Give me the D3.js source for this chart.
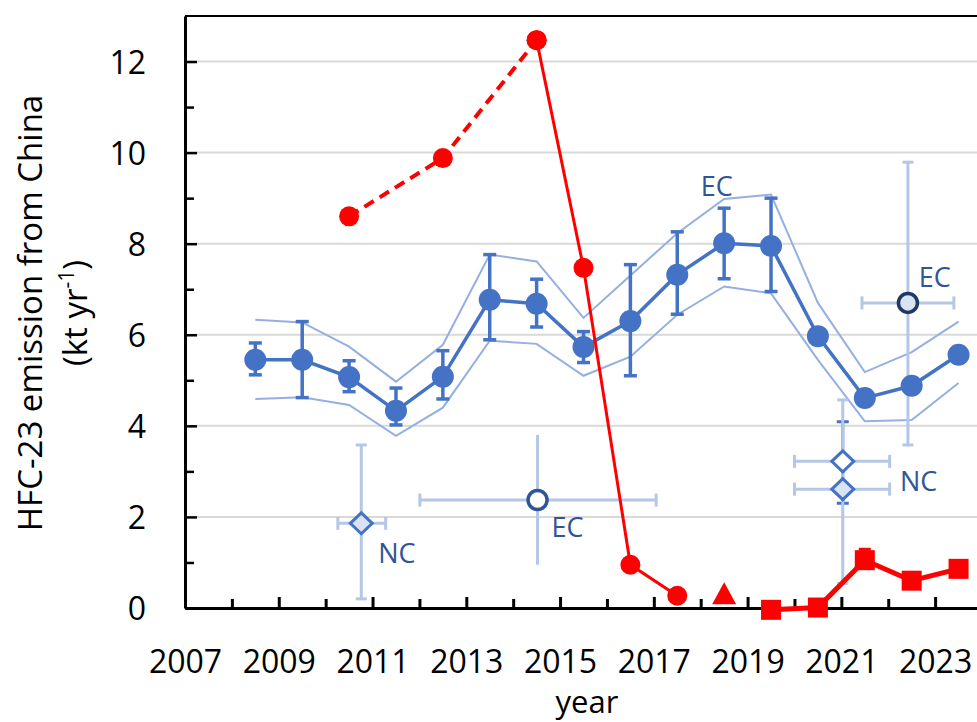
<!DOCTYPE html>
<html><head><meta charset="utf-8">
<script src="https://cdn.jsdelivr.net/npm/d3@7"></script>
<style>
html,body{margin:0;padding:0;background:#fff;}
svg{display:block;font-family:"Open Sans",sans-serif;}
</style></head>
<body>
<svg id="chart" width="977" height="722"></svg>
<script>
// ---- data ----
const blueYears = [2008.5,2009.5,2010.5,2011.5,2012.5,2013.5,2014.5,2015.5,2016.5,2017.5,2018.5,2019.5,2020.5,2021.5,2022.5,2023.5];
const blueValues = [5.45,5.45,5.07,4.33,5.08,6.77,6.68,5.73,6.30,7.32,8.01,7.95,5.97,4.61,4.88,5.56];
const blueErrHigh = [5.82,6.29,5.43,4.83,5.65,7.76,7.22,6.07,7.54,8.26,8.78,9.00,null,null,null,null];
const blueErrLow  = [5.12,4.62,4.75,4.02,4.59,5.89,6.17,5.39,5.10,6.45,7.23,6.95,null,null,null,null];
const envUpper = [6.33,6.27,5.74,4.97,5.78,7.76,7.61,6.37,7.30,8.23,8.98,9.08,6.70,5.18,5.62,6.29];
const envLower = [4.59,4.63,4.46,3.78,4.40,5.87,5.80,5.10,5.52,6.44,7.06,6.91,5.45,4.10,4.13,4.94];

const redDashYears = [2010.5,2012.5,2014.5];
const redDashValues = [8.60,9.88,12.47];
const redSolidYears = [2014.5,2015.5,2016.5,2017.5];
const redSolidValues = [12.47,7.47,0.95,0.27];
const redTriangleYears = [2018.5];
const redTriangleValues = [0.30];
const redSquareYears = [2019.5,2020.5,2021.5,2022.5,2023.5];
const redSquareValues = [-0.04,0.01,1.05,0.60,0.86];
const redSquareErrHigh = [null,null,1.29,null,null];

// other estimates: NC = diamonds, EC = circles
const otherEst = [
  {label:"NC", shape:"diamond", fill:"#dae3f3", year:2010.76, value:1.86, xLo:2010.26, xHi:2011.28, yLo:0.20, yHi:3.58, caps:true},
  {label:"EC", shape:"circle", fill:"#ffffff", year:2014.52, value:2.37, xLo:2012.01, xHi:2017.05, yLo:0.95, yHi:3.80, caps:false},
  {label:"NC", shape:"diamond", fill:"#dae3f3", year:2021.03, value:2.61, xLo:2020.0, xHi:2022.03, yLo:0.54, yHi:4.57, caps:true},
  {label:"NC", shape:"diamond", fill:"#ffffff", year:2021.03, value:3.22, xLo:2020.0, xHi:2022.03, yLo:null, yHi:null, caps:true},
  {label:"EC", shape:"circle", fill:"#dae3f3", year:2022.42, value:6.70, xLo:2021.44, xHi:2023.40, yLo:3.58, yHi:9.79, caps:true}
];
const ncDarkErr = {year:2021.03, lo:2.30, hi:4.09};

const labels = [
  {text:"EC", year:2018.0, value:9.05},
  {text:"EC", year:2022.65, value:7.05},
  {text:"EC", year:2014.82, value:1.57},
  {text:"NC", year:2011.12, value:0.98},
  {text:"NC", year:2022.25, value:2.58}
];

const xTickYears = d3.range(2007, 2024);
const yTickValues = d3.range(0, 13);

// ---- chart ----
const svg = d3.select("#chart");
const x = d3.scaleLinear().domain([2007, 2024]).range([185, 982]);
const y = d3.scaleLinear().domain([0, 13]).range([608, 16]);

const BLUE = "#4472c4", LIGHT = "#b4c7e7", ENV = "#95afe0", RED = "#ff0000", LBL = "#2f5597";

// gridlines
svg.append("g").selectAll("line").data(yTickValues.filter(v => v > 0 && v % 2 === 0)).join("line")
  .attr("x1", x(2007)).attr("x2", 982).attr("y1", d => y(d)).attr("y2", d => y(d))
  .attr("stroke", "#d9d9d9").attr("stroke-width", 2);

// top border
svg.append("line").attr("x1", x(2007)).attr("x2", 982).attr("y1", y(13)).attr("y2", y(13))
  .attr("stroke", "#000").attr("stroke-width", 2);

// envelope
const line = d3.line().x(d => x(d[0])).y(d => y(d[1]));
[envUpper, envLower].forEach(env => {
  svg.append("path").attr("d", line(blueYears.map((yr,i) => [yr, env[i]])))
    .attr("fill","none").attr("stroke", ENV).attr("stroke-width", 2);
});

function vErr(g, xv, lo, hi, color, w, capW, caps) {
  g.append("line").attr("x1", x(xv)).attr("x2", x(xv)).attr("y1", y(lo)).attr("y2", y(hi))
    .attr("stroke", color).attr("stroke-width", w);
  if (caps) [lo, hi].forEach(v => g.append("line")
    .attr("x1", x(xv) - capW/2).attr("x2", x(xv) + capW/2).attr("y1", y(v)).attr("y2", y(v))
    .attr("stroke", color).attr("stroke-width", w));
}
function hErr(g, yv, lo, hi, color, w, capH) {
  g.append("line").attr("x1", x(lo)).attr("x2", x(hi)).attr("y1", y(yv)).attr("y2", y(yv))
    .attr("stroke", color).attr("stroke-width", w);
  [lo, hi].forEach(v => g.append("line")
    .attr("x1", x(v)).attr("x2", x(v)).attr("y1", y(yv) - capH/2).attr("y2", y(yv) + capH/2)
    .attr("stroke", color).attr("stroke-width", w));
}

// other estimates error bars
const gOther = svg.append("g");
vErr(gOther, ncDarkErr.year, ncDarkErr.lo, ncDarkErr.hi, BLUE, 3, 12, true);
otherEst.forEach(d => {
  if (d.yLo !== null) vErr(gOther, d.year, d.yLo, d.yHi, LIGHT, 3, 11, d.caps);
  hErr(gOther, d.value, d.xLo, d.xHi, LIGHT, 3, 13);
});

// blue error bars
const gBlue = svg.append("g");
blueYears.forEach((yr, i) => {
  if (blueErrHigh[i] !== null) vErr(gBlue, yr, blueErrLow[i], blueErrHigh[i], BLUE, 3.5, 13, true);
});
gBlue.append("path").attr("d", line(blueYears.map((yr,i) => [yr, blueValues[i]])))
  .attr("fill","none").attr("stroke", BLUE).attr("stroke-width", 3.5);
gBlue.selectAll("circle").data(blueYears).join("circle")
  .attr("cx", d => x(d)).attr("cy", (d,i) => y(blueValues[i])).attr("r", 11).attr("fill", BLUE);

// other estimate markers
otherEst.forEach(d => {
  if (d.shape === "diamond") {
    const cx = x(d.year), cy = y(d.value), w = 11, h = 10.5;
    gOther.append("path").attr("d", `M${cx},${cy-h}L${cx+w},${cy}L${cx},${cy+h}L${cx-w},${cy}Z`)
      .attr("fill", d.fill).attr("stroke", BLUE).attr("stroke-width", 3);
  } else {
    gOther.append("circle").attr("cx", x(d.year)).attr("cy", y(d.value)).attr("r", 9.5)
      .attr("fill", d.fill).attr("stroke", d.fill === "#ffffff" ? "#2f5597" : "#1f3864").attr("stroke-width", 3.5);
  }
});

// labels
svg.append("g").selectAll("text").data(labels).join("text")
  .attr("x", d => x(d.year)).attr("y", d => y(d.value)).text(d => d.text)
  .attr("fill", LBL).attr("font-size", 27);

// axes
const xAxis = d3.axisBottom(x).tickValues(xTickYears).tickSizeInner(-11).tickSizeOuter(0)
  .tickFormat(d => d % 2 === 1 ? d : "");
const gx = svg.append("g").attr("transform", "translate(0,608)").call(xAxis);
gx.select(".domain").attr("stroke", "#000").attr("stroke-width", 3);
gx.selectAll(".tick line").attr("stroke", "#000").attr("stroke-width", 3)
  .attr("y2", d => d % 2 === 1 ? -11 : -9);
gx.selectAll(".tick text").attr("y", 65).attr("dy", 0).attr("font-size", 32)
  .attr("font-family", "Open Sans").attr("fill", "#000");

const yAxis = d3.axisLeft(y).tickValues(yTickValues).tickSizeInner(-12).tickSizeOuter(0)
  .tickFormat(d => d % 2 === 0 ? d : "");
const gy = svg.append("g").attr("transform", `translate(${x(2007)},0)`).call(yAxis);
gy.select(".domain").attr("stroke", "#000").attr("stroke-width", 3);
gy.selectAll(".tick line").attr("stroke", "#000").attr("stroke-width", 2.5)
  .attr("x2", d => d % 2 === 0 ? 12 : 9);
gy.selectAll(".tick text").attr("x", -39).attr("dy", "0.36em").attr("font-size", 32)
  .attr("font-family", "Open Sans").attr("fill", "#000");

// red series
const gRed = svg.append("g");
gRed.append("path").attr("d", line(redDashYears.map((yr,i) => [yr, redDashValues[i]])))
  .attr("fill","none").attr("stroke", RED).attr("stroke-width", 4).attr("stroke-dasharray", "11,7");
gRed.append("path").attr("d", line(redSolidYears.map((yr,i) => [yr, redSolidValues[i]])))
  .attr("fill","none").attr("stroke", RED).attr("stroke-width", 3);
gRed.selectAll("circle.d").data(redDashYears).join("circle").attr("class","d")
  .attr("cx", d => x(d)).attr("cy", (d,i) => y(redDashValues[i])).attr("r", 10).attr("fill", RED);
gRed.selectAll("circle.s").data(redSolidYears).join("circle").attr("class","s")
  .attr("cx", d => x(d)).attr("cy", (d,i) => y(redSolidValues[i])).attr("r", 10).attr("fill", RED);
redTriangleYears.forEach((yr, i) => {
  const cx = x(yr), cy = y(redTriangleValues[i]);
  gRed.append("path").attr("d", `M${cx},${cy-12}L${cx+12},${cy+10}L${cx-12},${cy+10}Z`).attr("fill", RED);
});
redSquareYears.forEach((yr, i) => {
  if (redSquareErrHigh[i] !== null) vErr(gRed, yr, redSquareValues[i], redSquareErrHigh[i], RED, 3, 12, true);
});
gRed.append("path").attr("d", line(redSquareYears.map((yr,i) => [yr, redSquareValues[i]])))
  .attr("fill","none").attr("stroke", RED).attr("stroke-width", 5);
gRed.selectAll("rect").data(redSquareYears).join("rect")
  .attr("x", d => x(d) - 10).attr("y", (d,i) => y(redSquareValues[i]) - 10)
  .attr("width", 20).attr("height", 20).attr("fill", RED);

// axis titles
svg.append("text").attr("x", 587).attr("y", 713).attr("text-anchor", "middle")
  .attr("font-size", 31).attr("fill", "#000").text("year");
const yt = svg.append("text").attr("transform", "translate(42,313) rotate(-90)")
  .attr("text-anchor", "middle").attr("font-size", 33).attr("fill", "#000");
yt.append("tspan").attr("x", 0).attr("y", 0).text("HFC-23 emission from China");
const yt2 = svg.append("text").attr("transform", "translate(87,313) rotate(-90)")
  .attr("text-anchor", "middle").attr("font-size", 33).attr("fill", "#000");
yt2.append("tspan").text("(kt yr");
yt2.append("tspan").attr("font-size", 21).attr("dy", -13).text("-1");
yt2.append("tspan").attr("dy", 13).text(")");
</script>
</body></html>
